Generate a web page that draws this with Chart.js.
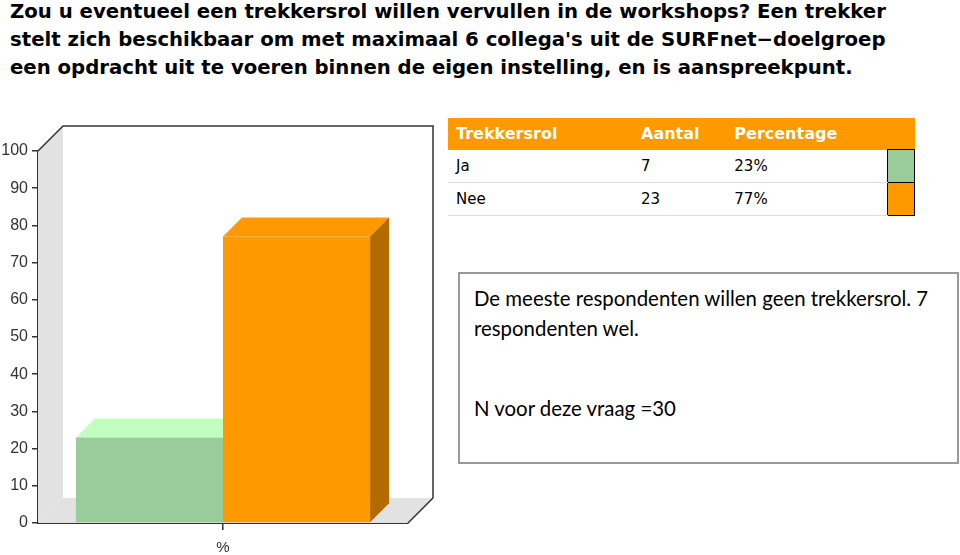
<!DOCTYPE html>
<html>
<head>
<meta charset="utf-8">
<script src="https://cdn.jsdelivr.net/npm/chart.js@4.4.1/dist/chart.umd.min.js"></script>
<style>
  html, body { margin:0; padding:0; background:#fff; width:960px; height:555px; overflow:hidden; }
  #title { position:absolute; left:10px; top:-2px; font-family:"DejaVu Sans", Verdana, sans-serif; font-weight:bold; font-size:19.7px; line-height:28px; color:#000; white-space:nowrap; }
  #chartWrap { position:absolute; left:0; top:0; width:445px; height:555px; }
  #tbl { position:absolute; left:448px; top:118px; width:467px; border-collapse:collapse; font-family:"DejaVu Sans", Verdana, sans-serif; font-size:15px; }
  #tbl th { background:#ff9900; color:#fff; font-weight:bold; font-size:16px; text-align:left; height:31px; padding:0 0 0 8px; }
  #tbl td { height:32px; padding:0 0 0 8px; border-bottom:1px solid #ddd; color:#000; }
  #tbl td.sw { padding:0; width:26px; border:1px solid #000; }
  #note { position:absolute; left:458px; top:272px; width:497px; height:188px; border:2px solid #999; font-family:Lato, "Open Sans", sans-serif; font-size:20.4px; color:#000; }
  #note p { position:absolute; left:14px; margin:0; line-height:30px; white-space:nowrap; }
</style>
</head>
<body>
<div id="title">Zou u eventueel een trekkersrol willen vervullen in de workshops? Een trekker<br>stelt zich beschikbaar om met maximaal 6 collega's uit de SURFnet−doelgroep<br>een opdracht uit te voeren binnen de eigen instelling, en is aanspreekpunt.</div>
<div id="chartWrap"><canvas id="c" width="445" height="555"></canvas></div>
<table id="tbl"><thead><tr id="hdr"></tr></thead><tbody id="tb"></tbody></table>
<div id="note">
  <p style="top:9px">De meeste respondenten willen geen trekkersrol. 7<br>respondenten wel.</p>
  <p style="top:119px">N voor deze vraag =30</p>
</div>
<script>
const categories = ['%'];
const answers = ['Ja', 'Nee'];
const counts = [7, 23];
const percentages = [23, 77];
const headers = ['Trekkersrol', 'Aantal', 'Percentage', ''];
const frontColors = ['#99cc99', '#ff9900'];
const topColors = ['#c0ffc0', '#ff9900'];
const sideColors = ['#88bb88', '#b36b00'];
const yMin = 0, yMax = 100, yStep = 10;

// table
const hdr = document.getElementById('hdr');
headers.forEach(h => { const th = document.createElement('th'); th.textContent = h; hdr.appendChild(th); });
const tb = document.getElementById('tb');
answers.forEach((a, i) => {
  const tr = document.createElement('tr');
  [a, String(counts[i]), percentages[i] + '%'].forEach(v => { const td = document.createElement('td'); td.textContent = v; tr.appendChild(td); });
  const sw = document.createElement('td'); sw.className = 'sw'; sw.style.background = frontColors[i]; tr.appendChild(sw);
  tb.appendChild(tr);
});
const ths = hdr.children;
ths[0].style.width = '179px'; ths[1].style.width = '86px'; ths[2].style.width = '155px';

const WALL = 25, BD = 19;
const threeD = {
  id: 'threeD',
  beforeDatasetsDraw(chart) {
    const ctx = chart.ctx, a = chart.chartArea;
    ctx.save();
    ctx.fillStyle = '#e2e2e2';
    ctx.beginPath();
    ctx.moveTo(a.left, a.top); ctx.lineTo(a.left + WALL, a.top - WALL);
    ctx.lineTo(a.left + WALL, a.bottom - WALL); ctx.lineTo(a.left, a.bottom); ctx.closePath(); ctx.fill();
    ctx.beginPath();
    ctx.moveTo(a.left, a.bottom); ctx.lineTo(a.right, a.bottom);
    ctx.lineTo(a.right + WALL, a.bottom - WALL); ctx.lineTo(a.left + WALL, a.bottom - WALL); ctx.closePath(); ctx.fill();
    ctx.strokeStyle = '#333'; ctx.lineWidth = 1.5;
    ctx.beginPath();
    ctx.moveTo(a.left, a.top); ctx.lineTo(a.left + WALL, a.top - WALL);
    ctx.lineTo(a.right + WALL, a.top - WALL); ctx.lineTo(a.right + WALL, a.bottom - WALL);
    ctx.lineTo(a.right, a.bottom);
    ctx.stroke();
    chart.data.datasets.forEach((ds, i) => {
      const el = chart.getDatasetMeta(i).data[0];
      const l = el.x - el.width / 2, r = el.x + el.width / 2, t = el.y, b = el.base;
      ctx.fillStyle = topColors[i];
      ctx.beginPath();
      ctx.moveTo(l, t); ctx.lineTo(l + BD, t - BD); ctx.lineTo(r + BD, t - BD); ctx.lineTo(r, t); ctx.closePath(); ctx.fill();
      ctx.fillStyle = sideColors[i];
      ctx.beginPath();
      ctx.moveTo(r, t); ctx.lineTo(r + BD, t - BD); ctx.lineTo(r + BD, b - BD); ctx.lineTo(r, b); ctx.closePath(); ctx.fill();
    });
    ctx.restore();
  }
};

new Chart(document.getElementById('c'), {
  type: 'bar',
  data: {
    labels: categories,
    datasets: answers.map((a, i) => ({
      label: a, data: [percentages[i]], backgroundColor: frontColors[i], borderWidth: 0,
      categoryPercentage: 0.795, barPercentage: 1.0
    }))
  },
  options: {
    responsive: false, animation: false,
    layout: { padding: { top: 151, right: 37, left: 0, bottom: 0 } },
    plugins: { legend: { display: false }, tooltip: { enabled: false }, title: { display: false } },
    scales: {
      x: {
        grid: { display: true, drawOnChartArea: false, drawTicks: true, tickLength: 7, color: '#333', lineWidth: 1.5, offset: false },
        border: { display: true, color: '#333', width: 2 },
        ticks: { color: '#333', font: { family: 'Liberation Sans', size: 15 }, padding: 9 },
        afterFit(s) { s.height = 32; }
      },
      y: {
        min: yMin, max: yMax,
        grid: { display: true, drawOnChartArea: false, drawTicks: true, tickLength: 6, color: '#333', lineWidth: 1.5 },
        border: { display: true, color: '#333', width: 2 },
        ticks: { stepSize: yStep, color: '#333', font: { family: 'Liberation Sans', size: 16 }, padding: 4 },
        afterFit(s) { s.width = 38; }
      }
    }
  },
  plugins: [threeD]
});
</script>
</body>
</html>
